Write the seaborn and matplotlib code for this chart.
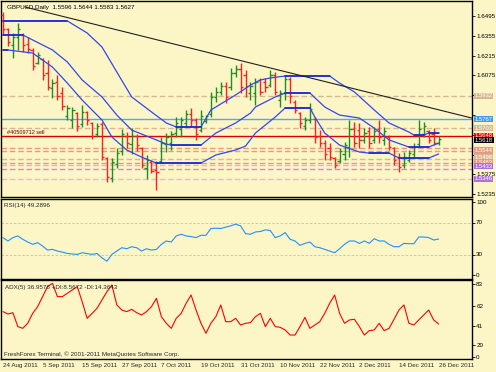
import numpy as np
import pandas as pd
import seaborn as sns
import matplotlib.pyplot as plt
import matplotlib.transforms as mtransforms

# ---- data --------------------------------------------------------------
date_labels = ["24 Aug 2011", "5 Sep 2011", "15 Sep 2011", "27 Sep 2011", "7 Oct 2011",
               "19 Oct 2011", "31 Oct 2011", "10 Nov 2011", "22 Nov 2011", "2 Dec 2011",
               "14 Dec 2011", "26 Dec 2011"]

opens = [1.6500, 1.6400, 1.6290, 1.6345, 1.6360, 1.6300, 1.6255, 1.6165, 1.6190, 1.6090,
         1.5985, 1.6030, 1.5950, 1.5790, 1.5760, 1.5810, 1.5730, 1.5815, 1.5740, 1.5660,
         1.5730, 1.5490, 1.5350, 1.5450, 1.5540, 1.5650, 1.5590, 1.5645, 1.5560, 1.5420,
         1.5460, 1.5410, 1.5470, 1.5590, 1.5600, 1.5665, 1.5700, 1.5740, 1.5800, 1.5760,
         1.5690, 1.5750, 1.5800, 1.5920, 1.5960, 1.6000, 1.5990, 1.6090, 1.6120, 1.6080,
         1.5950, 1.5950, 1.6040, 1.6030, 1.6010, 1.6080, 1.5900, 1.5950, 1.6050, 1.5890,
         1.5810, 1.5720, 1.5760, 1.5770, 1.5650, 1.5600, 1.5560, 1.5490, 1.5470, 1.5520,
         1.5570, 1.5700, 1.5690, 1.5620, 1.5680, 1.5620, 1.5700, 1.5620, 1.5640, 1.5560,
         1.5500, 1.5440, 1.5480, 1.5520, 1.5590, 1.5660, 1.5680, 1.5660, 1.5596]
highs = [1.6523, 1.6410, 1.6375, 1.6445, 1.6375, 1.6347, 1.6269, 1.6241, 1.6198, 1.6184,
         1.6050, 1.6078, 1.5993, 1.5866, 1.5852, 1.5817, 1.5866, 1.5824, 1.5746, 1.5739,
         1.5746, 1.5498, 1.5491, 1.5562, 1.5696, 1.5675, 1.5703, 1.5661, 1.5569, 1.5513,
         1.5477, 1.5470, 1.5640, 1.5668, 1.5682, 1.5781, 1.5781, 1.5831, 1.5845, 1.5774,
         1.5831, 1.5795, 1.5958, 1.5993, 1.6029, 1.6029, 1.6127, 1.6149, 1.6163, 1.6113,
         1.6029, 1.6057, 1.6057, 1.6057, 1.6113, 1.6099, 1.5972, 1.6078, 1.6064, 1.5901,
         1.5817, 1.5781, 1.5880, 1.5781, 1.5689, 1.5619, 1.5597, 1.5498, 1.5562, 1.5604,
         1.5760, 1.5746, 1.5739, 1.5703, 1.5711, 1.5711, 1.5760, 1.5711, 1.5654, 1.5569,
         1.5526, 1.5534, 1.5548, 1.5597, 1.5760, 1.5746, 1.5689, 1.5703, 1.5644]
lows = [1.6361, 1.6283, 1.6198, 1.6255, 1.6241, 1.6233, 1.6113, 1.6156, 1.6043, 1.5972,
        1.5915, 1.5901, 1.5831, 1.5760, 1.5703, 1.5682, 1.5711, 1.5725, 1.5626, 1.5640,
        1.5477, 1.5322, 1.5322, 1.5421, 1.5513, 1.5562, 1.5520, 1.5541, 1.5421, 1.5343,
        1.5385, 1.5265, 1.5456, 1.5534, 1.5548, 1.5640, 1.5640, 1.5711, 1.5711, 1.5619,
        1.5675, 1.5739, 1.5781, 1.5887, 1.5937, 1.5880, 1.5972, 1.6064, 1.5951, 1.5923,
        1.5901, 1.5866, 1.5937, 1.5958, 1.5993, 1.5937, 1.5852, 1.5901, 1.5880, 1.5809,
        1.5703, 1.5689, 1.5739, 1.5597, 1.5569, 1.5477, 1.5477, 1.5421, 1.5456, 1.5477,
        1.5498, 1.5569, 1.5562, 1.5597, 1.5562, 1.5597, 1.5597, 1.5583, 1.5548, 1.5442,
        1.5392, 1.5421, 1.5463, 1.5498, 1.5569, 1.5640, 1.5597, 1.5583, 1.5583]
closes = [1.6400, 1.6310, 1.6345, 1.6400, 1.6290, 1.6260, 1.6140, 1.6220, 1.6080, 1.5990,
          1.6020, 1.5930, 1.5860, 1.5845, 1.5830, 1.5720, 1.5820, 1.5760, 1.5650, 1.5720,
          1.5500, 1.5360, 1.5460, 1.5530, 1.5660, 1.5600, 1.5650, 1.5580, 1.5440, 1.5480,
          1.5400, 1.5390, 1.5600, 1.5640, 1.5660, 1.5740, 1.5760, 1.5800, 1.5760, 1.5660,
          1.5790, 1.5790, 1.5920, 1.5960, 1.6000, 1.5920, 1.6090, 1.6120, 1.5990, 1.6000,
          1.6000, 1.6030, 1.5960, 1.5990, 1.6080, 1.5960, 1.5950, 1.6050, 1.5930, 1.5830,
          1.5740, 1.5760, 1.5840, 1.5640, 1.5600, 1.5520, 1.5500, 1.5440, 1.5540, 1.5580,
          1.5700, 1.5600, 1.5620, 1.5670, 1.5600, 1.5680, 1.5640, 1.5680, 1.5570, 1.5480,
          1.5430, 1.5500, 1.5530, 1.5570, 1.5700, 1.5720, 1.5620, 1.5600, 1.5627]

# three blue channel lines (bar index, price)
upper_bar = [0, 13, 17, 20, 23, 26, 30, 33, 35, 40, 42, 47, 50, 52, 54, 57, 66, 68, 71, 75, 78, 82, 83, 85, 86, 88]
upper_px = [1.6460, 1.6460, 1.6375, 1.6276, 1.6099, 1.5923, 1.5817, 1.5739, 1.5711, 1.5711, 1.5831,
            1.5937, 1.6007, 1.6043, 1.6057, 1.6071, 1.6071, 1.6021, 1.5958, 1.5831, 1.5739, 1.5675,
            1.5654, 1.5654, 1.5668, 1.5668]
mid_bar = [0, 4, 10, 13, 16, 20, 23, 26, 30, 33, 34, 40, 43, 47, 50, 51, 55, 57, 62, 65, 68, 72, 75, 78, 82, 86, 88]
mid_px = [1.6361, 1.6361, 1.6255, 1.6170, 1.6043, 1.5923, 1.5795, 1.5689, 1.5633, 1.5590, 1.5583,
          1.5583, 1.5668, 1.5739, 1.5809, 1.5852, 1.5923, 1.5951, 1.5951, 1.5852, 1.5795, 1.5774,
          1.5703, 1.5619, 1.5569, 1.5569, 1.5597]
lower_bar = [0, 1, 6, 10, 13, 16, 20, 22, 25, 28, 31, 40, 43, 47, 49, 51, 55, 57, 62, 63, 65, 68,
             72, 74, 78, 80, 86, 88]
lower_px = [1.6255, 1.6255, 1.6233, 1.6134, 1.6021, 1.5901, 1.5760, 1.5640, 1.5548, 1.5498, 1.5456,
            1.5456, 1.5513, 1.5548, 1.5576, 1.5668, 1.5781, 1.5845, 1.5845, 1.5781, 1.5668, 1.5583,
            1.5534, 1.5526, 1.5526, 1.5491, 1.5491, 1.5520]

trend_bar = [4.4, 94.7]
trend_px = [1.6559, 1.5774]

# horizontal levels: price, colour, style
level_px = [1.5932, 1.5767, 1.5703, 1.5648, 1.5562, 1.5538, 1.5486, 1.5458, 1.5439, 1.5416, 1.5345]
level_col = ["#d8b890", "#4fa8ff", "#d8b890", "#e00000", "#eb9a80", "#eb9a80", "#d8b890",
             "#eb9a80", "#f0b0c0", "#c090d8", "#f0b8c8"]
level_ls = ["--", "-", "--", "-", "--", "--", "--", "--", "--", "--", "--"]
tag_px = [1.5932, 1.5767, 1.5703, 1.5648, 1.5618, 1.5544, 1.5498, 1.5463, 1.5433, 1.5346]
tag_txt = ["1.5932", "1.5767", "1.5703", "1.5648", "1.5618", "1.5544", "1.5498", "1.5463",
           "1.5433", "1.5346"]
tag_col = ["#d8b890", "#3d9cf0", "#d8b890", "#ff0000", "#000000", "#e89a80", "#d8b890",
           "#e89a80", "#b070d8", "#b070d8"]

rsi_bar = [0, 1, 2, 3, 4, 5, 6, 7, 8, 9, 10, 11, 12, 13, 15, 16, 18, 19, 20, 21, 22, 23, 24, 25,
           26, 27, 28, 29, 30, 31, 32, 33, 34, 35, 36, 37, 38, 39, 40, 41, 42, 43, 44, 46, 47, 48,
           49, 50, 51, 52, 53, 54, 55, 56, 57, 58, 59, 60, 61, 62, 63, 64, 65, 66, 67, 68, 69, 70,
           71, 72, 73, 74, 75, 76, 77, 78, 79, 80, 81, 82, 83, 84, 85, 86, 87, 88]
rsi_val = [51.1, 46.9, 51.1, 53.2, 49.0, 45.6, 42.7, 44.8, 40.6, 35.5, 36.4, 34.3, 33.0, 31.3, 30.1,
           32.2, 30.1, 31.3, 25.8, 21.6, 30.1, 34.3, 38.5, 37.2, 39.7, 38.5, 34.3, 37.2, 35.5, 36.4,
           42.7, 46.9, 45.6, 53.2, 55.3, 53.2, 52.4, 51.1, 54.0, 54.0, 62.5, 62.9, 62.5, 65.8, 67.9,
           65.8, 56.1, 55.3, 58.2, 58.7, 60.8, 60.0, 51.1, 53.2, 57.4, 49.0, 46.9, 41.4, 43.9, 45.6,
           39.7, 38.5, 36.4, 34.3, 32.2, 37.2, 42.7, 46.9, 46.9, 43.9, 46.9, 43.9, 49.8, 46.9, 46.9,
           42.7, 39.7, 39.7, 43.9, 43.5, 43.5, 51.9, 51.9, 51.1, 48.1, 49.3]

adx_val = [49.9, 47.4, 48.8, 34.2, 32.4, 37.7, 48.1, 55.1, 65.6, 76.1,
           79.5, 65.6, 65.6, 69.1, 72.6, 76.1, 60.3, 42.9, 48.1, 53.4,
           62.1, 70.8, 77.8, 56.9, 51.6, 49.9, 52.3, 48.8, 46.4, 49.9,
           55.1, 63.8, 44.6, 37.7, 32.4, 42.9, 48.1, 58.6, 67.3, 51.6,
           37.7, 27.2, 37.7, 44.6, 56.9, 39.4, 39.4, 42.9, 35.9, 37.7,
           38.4, 44.6, 48.1, 34.2, 42.9, 34.2, 33.5, 30.7, 25.4, 25.4,
           34.2, 43.9, 32.4, 35.9, 39.4, 48.1, 58.6, 67.3, 48.1, 37.7,
           41.2, 41.9, 34.2, 25.4, 30.0, 30.7, 37.7, 30.0, 32.4, 41.9,
           51.6, 56.9, 37.7, 35.9, 41.2, 46.4, 51.6, 41.2, 36.96]

price_ticks = [1.6495, 1.6355, 1.6215, 1.6075, 1.5935, 1.5795, 1.5655, 1.5515, 1.5375, 1.5235]
# tick labels hidden behind the coloured price tags
price_hidden = [1.5935, 1.5795, 1.5655, 1.5515]

# ---- drawing --------------------------------------------------------------
sns.set_style("white")
plt.rcParams["font.family"] = ["Liberation Sans", "DejaVu Sans"]
bg = "#fcf6c6"
fs = 4.5

fig = plt.figure(figsize=(4.96, 3.72), dpi=100, facecolor=bg)
W, H = 496, 372
ax = fig.add_axes([1 / W, 1 - 197 / H, 471 / W, 196 / H])
ax_rsi = fig.add_axes([1 / W, 1 - 278.5 / H, 471 / W, 80 / H])
ax_adx = fig.add_axes([1 / W, 1 - 359.3 / H, 471 / W, 79.3 / H])

bars = np.arange(len(opens))
for a in (ax, ax_rsi, ax_adx):
    a.set_facecolor(bg)
    a.set_xlim(-0.4, 94.75)
    for s in a.spines.values():
        s.set_color("black")
        s.set_linewidth(1.0)
    a.yaxis.tick_right()
    a.tick_params(axis="y", labelsize=fs, length=2, width=0.6, pad=1, colors="black")
    a.tick_params(axis="x", length=0, labelbottom=False)

# main price panel
ax.set_ylim(1.5216, 1.6601)
df = pd.DataFrame({"bar": bars, "o": opens, "h": highs, "l": lows, "c": closes})
col = np.where(df.c >= df.o, "#1f8f1f", "#ff2020")

for p, c, ls in zip(level_px, level_col, level_ls):
    if ls == "--":
        ax.axhline(p, color=c, lw=1.0, dashes=(4, 2), zorder=1)
    else:
        ax.axhline(p, color=c, lw=1.0, zorder=1)

ax.vlines(df.bar, df.l, df.h, colors=col, lw=1.0, zorder=3)
ax.hlines(df.o, df.bar - 0.45, df.bar, colors=col, lw=1.0, zorder=3)
ax.hlines(df.c, df.bar, df.bar + 0.45, colors=col, lw=1.0, zorder=3)

for bx, py in ((upper_bar, upper_px), (mid_bar, mid_px), (lower_bar, lower_px)):
    sns.lineplot(x=bx, y=py, ax=ax, color="#3446ee", lw=0.9, zorder=4)
    # flat stretches are drawn a bit heavier, as in the terminal
    for i in range(len(bx) - 1):
        if py[i] == py[i + 1]:
            ax.plot([bx[i], bx[i + 1]], [py[i], py[i + 1]], color="#1424d0", lw=1.15, zorder=4)
sns.lineplot(x=trend_bar, y=trend_px, ax=ax, color="#202020", lw=0.8, zorder=4)

ax.set_yticks(price_ticks)
ax.set_yticklabels(["" if t in price_hidden else f"{t:.4f}" for t in price_ticks])
ax.set_xlabel("")
ax.set_ylabel("")

trans = mtransforms.blended_transform_factory(ax.transAxes, ax.transData)
for p, t, c in zip(tag_px, tag_txt, tag_col):
    ax.text(1.006, p, t, transform=trans, fontsize=4.2, color="white", va="center", ha="left",
            bbox=dict(boxstyle="square,pad=0.1", fc=c, ec="none"), zorder=6, clip_on=False)

ax.text(0.013, 0.982, "GBPUSD,Daily  1.5596 1.5644 1.5583 1.5627", transform=ax.transAxes,
        fontsize=fs, va="top", ha="left", color="black")
ax.text(0.013, 1.5651, "#40509712 sell", transform=trans, fontsize=fs - 0.5,
        va="bottom", ha="left", color="#600000")

# RSI panel
ax_rsi.set_ylim(0, 100)
ax_rsi.axhline(70, color="#c8c0a0", ls=(0, (3, 2)), lw=0.6)
ax_rsi.axhline(30, color="#c8c0a0", ls=(0, (3, 2)), lw=0.6)
sns.lineplot(x=rsi_bar, y=rsi_val, ax=ax_rsi, color="#1e90ff", lw=0.8)
ax_rsi.set_yticks([96, 70, 30, 4])
ax_rsi.set_yticklabels(["100", "70", "30", "0"])
ax_rsi.set_xlabel("")
ax_rsi.set_ylabel("")
ax_rsi.text(0.006, 0.95, "RSI(14) 49.2896", transform=ax_rsi.transAxes, fontsize=fs,
            va="top", ha="left")

# ADX panel
ax_adx.set_ylim(0, 83)
sns.lineplot(x=bars, y=adx_val, ax=ax_adx, color="#ff0000", lw=0.8)
ax_adx.set_yticks([79, 55.5, 35, 15, 2.7])
ax_adx.set_yticklabels(["83", "62", "41", "20", "0"])
ax_adx.set_xlabel("")
ax_adx.set_ylabel("")
ax_adx.text(0.008, 0.94, "ADX(5) 36.9578 +DI:8.5672 -DI:14.3643", transform=ax_adx.transAxes,
            fontsize=fs, va="top", ha="left")
ax_adx.text(0.006, 0.03, "FreshForex Terminal, \u00a9 2001-2011 MetaQuotes Software Corp.",
            transform=ax_adx.transAxes, fontsize=fs, va="bottom", ha="left")

ax_adx.set_xticks(np.arange(0, 89, 8))
ax_adx.set_xticklabels(date_labels)
ax_adx.tick_params(axis="x", length=2, width=0.6, labelbottom=True, labelsize=fs, pad=1)
for lab in ax_adx.get_xticklabels():
    lab.set_ha("left")

fig.savefig("out.png", dpi=100, facecolor=bg)
